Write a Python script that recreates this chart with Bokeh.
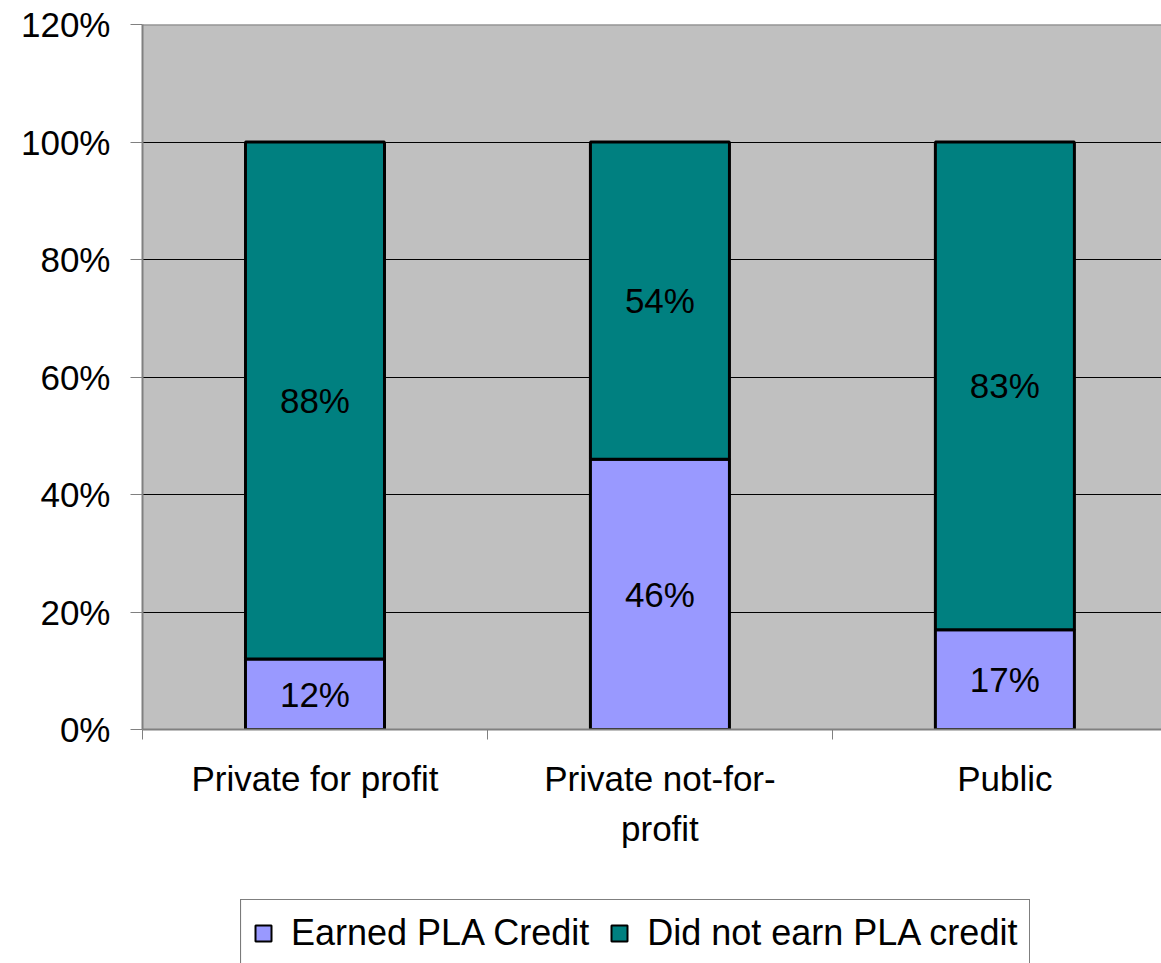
from bokeh.plotting import figure
from bokeh.models import (FixedTicker, Range1d, Span, Legend, LegendItem, LabelSet,
                          ColumnDataSource, LinearAxis, Spacer)
from bokeh.layouts import column, row
from bokeh.core.properties import value
from bokeh.embed import file_html
from bokeh.resources import INLINE

categories_line1 = ["Private for profit", "Private not-for-", "Public"]
categories_line2 = ["", "profit", ""]
earned = [12, 46, 17]
not_earned = [88, 54, 83]
y_ticks = [0, 20, 40, 60, 80, 100, 120]
y_tick_labels = ["0%", "20%", "40%", "60%", "80%", "100%", "120%"]
series_names = ["Earned PLA Credit", "Did not earn PLA credit"]
colors = ["#9999FF", "#008080"]

FONT = "Liberation Sans"

xs = [i + 0.5 for i in range(len(categories_line1))]
src = ColumnDataSource(dict(
    x=xs,
    earned=earned,
    not_earned=not_earned,
    earned_mid=[e / 2 for e in earned],
    not_mid=[e + n / 2 for e, n in zip(earned, not_earned)],
    earned_lbl=[f"{v}%" for v in earned],
    not_lbl=[f"{v}%" for v in not_earned],
))

p = figure(frame_width=1019, frame_height=705, output_backend="svg", toolbar_location=None,
           x_range=Range1d(0, 2.954), y_range=Range1d(0, 120),
           min_border_left=142, min_border_right=0, min_border_top=24,
           min_border_bottom=170)
p.border_fill_color = "white"
p.outline_line_color = None
p.background_fill_color = "#C0C0C0"

r = p.vbar_stack(["earned", "not_earned"], x="x", width=0.403, source=src,
                 fill_color=colors, line_color="black", line_width=3)

# data labels
for ycol, tcol in (("earned_mid", "earned_lbl"), ("not_mid", "not_lbl")):
    p.add_layout(LabelSet(x="x", y=ycol, text=tcol, source=src,
                          text_align="center", text_baseline="middle",
                          text_font=value(FONT), text_font_size="35px",
                          text_color="black"))

# y axis
p.yaxis.ticker = FixedTicker(ticks=y_ticks)
p.yaxis.major_label_overrides = {t: l for t, l in zip(y_ticks, y_tick_labels)}
p.yaxis.major_label_text_font = FONT
p.yaxis.major_label_text_font_size = "35px"
p.yaxis.major_label_text_color = "black"
p.yaxis.axis_line_color = "#808080"
p.yaxis.axis_line_width = 2
p.yaxis.major_tick_line_color = "#808080"
p.yaxis.major_tick_out = 12
p.yaxis.major_tick_in = 0
p.yaxis.minor_tick_line_color = None
p.yaxis.major_label_standoff = 20

# x axis (first line of category labels + boundary ticks)
p.xaxis.ticker = FixedTicker(ticks=xs, minor_ticks=[0, 1, 2, 3])
p.xaxis.major_label_overrides = {x: c for x, c in zip(xs, categories_line1)}
p.xaxis.major_label_text_font = FONT
p.xaxis.major_label_text_font_size = "35px"
p.xaxis.major_label_text_color = "black"
p.xaxis.axis_line_color = "#808080"
p.xaxis.axis_line_width = 2
p.xaxis.major_tick_line_color = None
p.xaxis.major_tick_out = 10
p.xaxis.minor_tick_line_color = "#808080"
p.xaxis.minor_tick_out = 10
p.xaxis.minor_tick_in = 0
p.xaxis.major_label_standoff = 19

# second line of wrapped category labels
ax2 = LinearAxis(ticker=FixedTicker(ticks=xs, minor_ticks=[]),
                 major_label_overrides={x: c for x, c in zip(xs, categories_line2)},
                 major_label_text_font=FONT, major_label_text_font_size="35px",
                 major_label_text_color="black", axis_line_color=None,
                 major_tick_line_color=None, minor_tick_line_color=None,
                 major_tick_out=0, major_tick_in=0, major_label_standoff=8)
p.add_layout(ax2, "below")

# grid
p.xgrid.grid_line_color = None
p.ygrid.ticker = FixedTicker(ticks=y_ticks[1:-1])
p.ygrid.grid_line_color = "black"
p.ygrid.grid_line_width = 1
p.add_layout(Span(location=120, dimension="width", line_color="#808080", line_width=2))

# legend in its own strip below the chart (swatch renderers kept off-range)
lf = figure(width=900, height=64, output_backend="svg", toolbar_location=None,
            min_border=0, x_range=Range1d(0, 1), y_range=Range1d(0, 1))
lf.axis.visible = False
lf.grid.visible = False
lf.outline_line_color = None
lf.background_fill_color = "white"
lf.border_fill_color = "white"
legend_renderers = [
    lf.vbar(x=[-10], top=[1], width=0.1, fill_color=c, line_color="black", line_width=2)
    for c in colors
]
legend = Legend(items=[LegendItem(label=n, renderers=[rr])
                       for n, rr in zip(series_names, legend_renderers)],
                orientation="horizontal", location="top_left",
                label_text_font=FONT, label_text_font_size="36px",
                label_text_color="black",
                glyph_width=20, glyph_height=20, label_standoff=18, spacing=20,
                padding=12, margin=0,
                border_line_color="black", border_line_width=1,
                background_fill_color="white")
lf.add_layout(legend, "center")

layout = column(p, row(Spacer(width=240, height=64), lf))

open("out.html", "w").write(file_html(layout, INLINE))
